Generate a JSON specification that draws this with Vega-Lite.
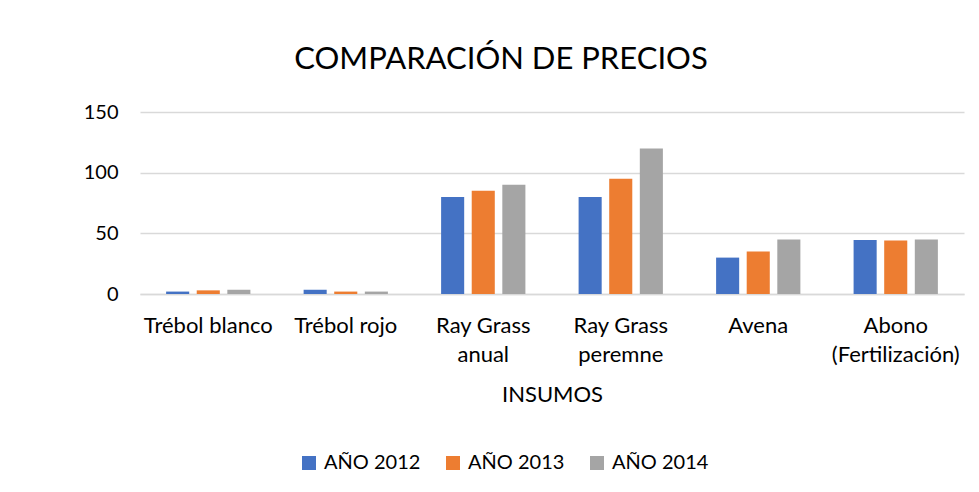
{
  "$schema": "https://vega.github.io/schema/vega-lite/v6.json",
  "width": 824,
  "height": 182,
  "autosize": {"type": "none"},
  "padding": {"left": 140, "top": 112, "right": 15, "bottom": 198},
  "background": "white",
  "config": {
    "font": "Lato",
    "view": {"stroke": null}
  },
  "title": {
    "text": "COMPARACIÓN DE PRECIOS",
    "fontSize": 31,
    "fontWeight": "normal",
    "color": "#000000",
    "anchor": "middle",
    "offset": 26,
    "dx": -51
  },
  "data": {
    "values": [
      {"insumo": "Trébol blanco", "year": "AÑO 2012", "precio": 2},
      {"insumo": "Trébol blanco", "year": "AÑO 2013", "precio": 3},
      {"insumo": "Trébol blanco", "year": "AÑO 2014", "precio": 3.5},
      {"insumo": "Trébol rojo", "year": "AÑO 2012", "precio": 3.5},
      {"insumo": "Trébol rojo", "year": "AÑO 2013", "precio": 2},
      {"insumo": "Trébol rojo", "year": "AÑO 2014", "precio": 2},
      {"insumo": "Ray Grass anual", "year": "AÑO 2012", "precio": 80},
      {"insumo": "Ray Grass anual", "year": "AÑO 2013", "precio": 85},
      {"insumo": "Ray Grass anual", "year": "AÑO 2014", "precio": 90},
      {"insumo": "Ray Grass peremne", "year": "AÑO 2012", "precio": 80},
      {"insumo": "Ray Grass peremne", "year": "AÑO 2013", "precio": 95},
      {"insumo": "Ray Grass peremne", "year": "AÑO 2014", "precio": 120},
      {"insumo": "Avena", "year": "AÑO 2012", "precio": 30},
      {"insumo": "Avena", "year": "AÑO 2013", "precio": 35},
      {"insumo": "Avena", "year": "AÑO 2014", "precio": 45},
      {"insumo": "Abono (Fertilización)", "year": "AÑO 2012", "precio": 44.5},
      {"insumo": "Abono (Fertilización)", "year": "AÑO 2013", "precio": 44},
      {"insumo": "Abono (Fertilización)", "year": "AÑO 2014", "precio": 45}
    ]
  },
  "mark": {"type": "bar"},
  "encoding": {
    "x": {
      "field": "insumo",
      "type": "nominal",
      "sort": null,
      "scale": {"paddingInner": 0.387, "paddingOuter": 0.19},
      "axis": {
        "title": "INSUMOS",
        "labelAngle": 0,
        "labelFontSize": 22,
        "labelColor": "#000000",
        "labelPadding": 21,
        "labelBaseline": "top",
        "labelLineHeight": 29,
        "labelExpr": "datum.label == 'Ray Grass anual' ? ['Ray Grass', 'anual'] : datum.label == 'Ray Grass peremne' ? ['Ray Grass', 'peremne'] : datum.label == 'Abono (Fertilización)' ? ['Abono', '(Fertilización)'] : datum.label",
        "ticks": false,
        "domainColor": "#d9d9d9",
        "domainWidth": 1.5,
        "titleFontSize": 22,
        "titleFontWeight": "normal",
        "titleColor": "#000000",
        "titlePadding": 19
      }
    },
    "xOffset": {
      "field": "year",
      "type": "nominal",
      "scale": {"paddingInner": 0.246, "paddingOuter": 0}
    },
    "y": {
      "field": "precio",
      "type": "quantitative",
      "scale": {"domain": [0, 150]},
      "axis": {
        "title": null,
        "values": [0, 50, 100, 150],
        "labelFontSize": 20,
        "labelColor": "#000000",
        "labelPadding": 22,
        "ticks": false,
        "domain": false,
        "gridColor": "#d9d9d9",
        "gridWidth": 1.5
      }
    },
    "color": {
      "field": "year",
      "type": "nominal",
      "scale": {
        "domain": ["AÑO 2012", "AÑO 2013", "AÑO 2014"],
        "range": ["#4472C4", "#ED7D31", "#A5A5A5"]
      },
      "legend": {
        "title": null,
        "orient": "none",
        "direction": "horizontal",
        "legendX": 159,
        "legendY": 341,
        "symbolType": "square",
        "symbolSize": 196,
        "symbolStrokeWidth": 0,
        "labelFontSize": 20,
        "labelColor": "#000000",
        "labelOffset": 5,
        "columnPadding": 22
      }
    }
  }
}
